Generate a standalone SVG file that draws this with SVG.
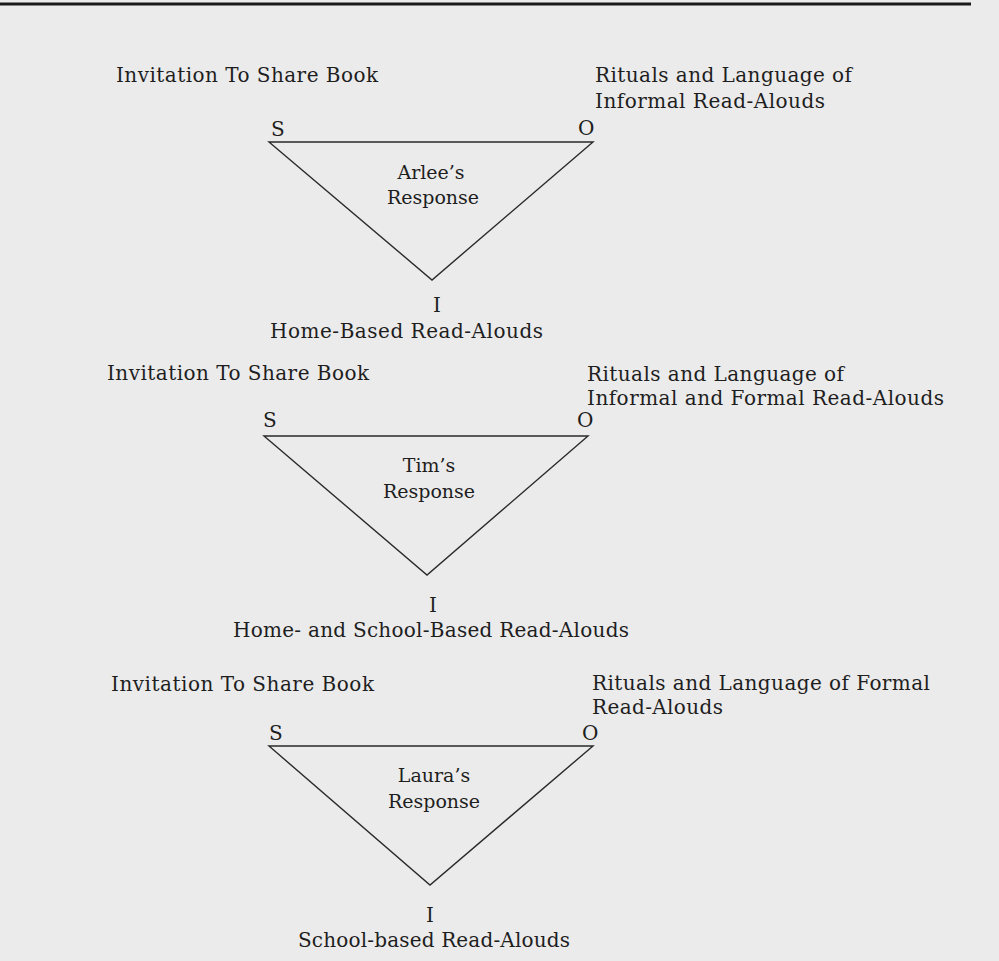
<svg xmlns="http://www.w3.org/2000/svg" width="999" height="961" viewBox="0 0 999 961">
<style>
text{font-family:"DejaVu Serif","Liberation Serif",serif;font-size:20px;fill:#1e1e1e}
.m{text-anchor:middle}
.in{font-size:19px}
.tri{fill:none;stroke:#2a2a2a;stroke-width:1.4;stroke-linejoin:miter}
.rule{stroke:#1a1a1a;stroke-width:3}
</style>
<rect width="999" height="961" fill="#ebebeb"/>
<line class="rule" x1="0" y1="4" x2="971" y2="4"/>

<g id="block1">
<g id="b1-subject"><text x="116" y="82" textLength="262">Invitation To Share Book</text></g>
<g id="b1-object"><text x="595" y="82" textLength="257">Rituals and Language of</text><text x="595" y="108" textLength="230">Informal Read-Alouds</text></g>
<g id="b1-triangle"><polygon class="tri" points="269,142 593,142 432,280"/>
<text class="m in" x="431" y="179">Arlee’s</text><text class="m in" x="433" y="204">Response</text></g>
<g id="b1-S"><text x="271" y="136">S</text></g>
<g id="b1-O"><text x="578" y="135">O</text></g>
<g id="b1-I"><text class="m" x="437" y="312">I</text></g>
<g id="b1-interpretant"><text x="270" y="338" textLength="273">Home-Based Read-Alouds</text></g>
</g>

<g id="block2">
<g id="b2-subject"><text x="107" y="380" textLength="262">Invitation To Share Book</text></g>
<g id="b2-object"><text x="587" y="381" textLength="257">Rituals and Language of</text><text x="587" y="405" textLength="357">Informal and Formal Read-Alouds</text></g>
<g id="b2-triangle"><polygon class="tri" points="264,436 588,436 427,575"/>
<text class="m in" x="429" y="472">Tim’s</text><text class="m in" x="429" y="498">Response</text></g>
<g id="b2-S"><text x="263" y="427">S</text></g>
<g id="b2-O"><text x="577" y="427">O</text></g>
<g id="b2-I"><text class="m" x="433" y="612">I</text></g>
<g id="b2-interpretant"><text x="233" y="637" textLength="396">Home- and School-Based Read-Alouds</text></g>
</g>

<g id="block3">
<g id="b3-subject"><text x="111" y="691" textLength="263">Invitation To Share Book</text></g>
<g id="b3-object"><text x="592" y="690" textLength="338">Rituals and Language of Formal</text><text x="592" y="714" textLength="131">Read-Alouds</text></g>
<g id="b3-triangle"><polygon class="tri" points="269,746 593,746 430,885"/>
<text class="m in" x="434" y="782">Laura’s</text><text class="m in" x="434" y="808">Response</text></g>
<g id="b3-S"><text x="269" y="740">S</text></g>
<g id="b3-O"><text x="582" y="740">O</text></g>
<g id="b3-I"><text class="m" x="430" y="922">I</text></g>
<g id="b3-interpretant"><text x="298" y="947" textLength="272">School-based Read-Alouds</text></g>
</g>
<g id="connectors"/>
</svg>
